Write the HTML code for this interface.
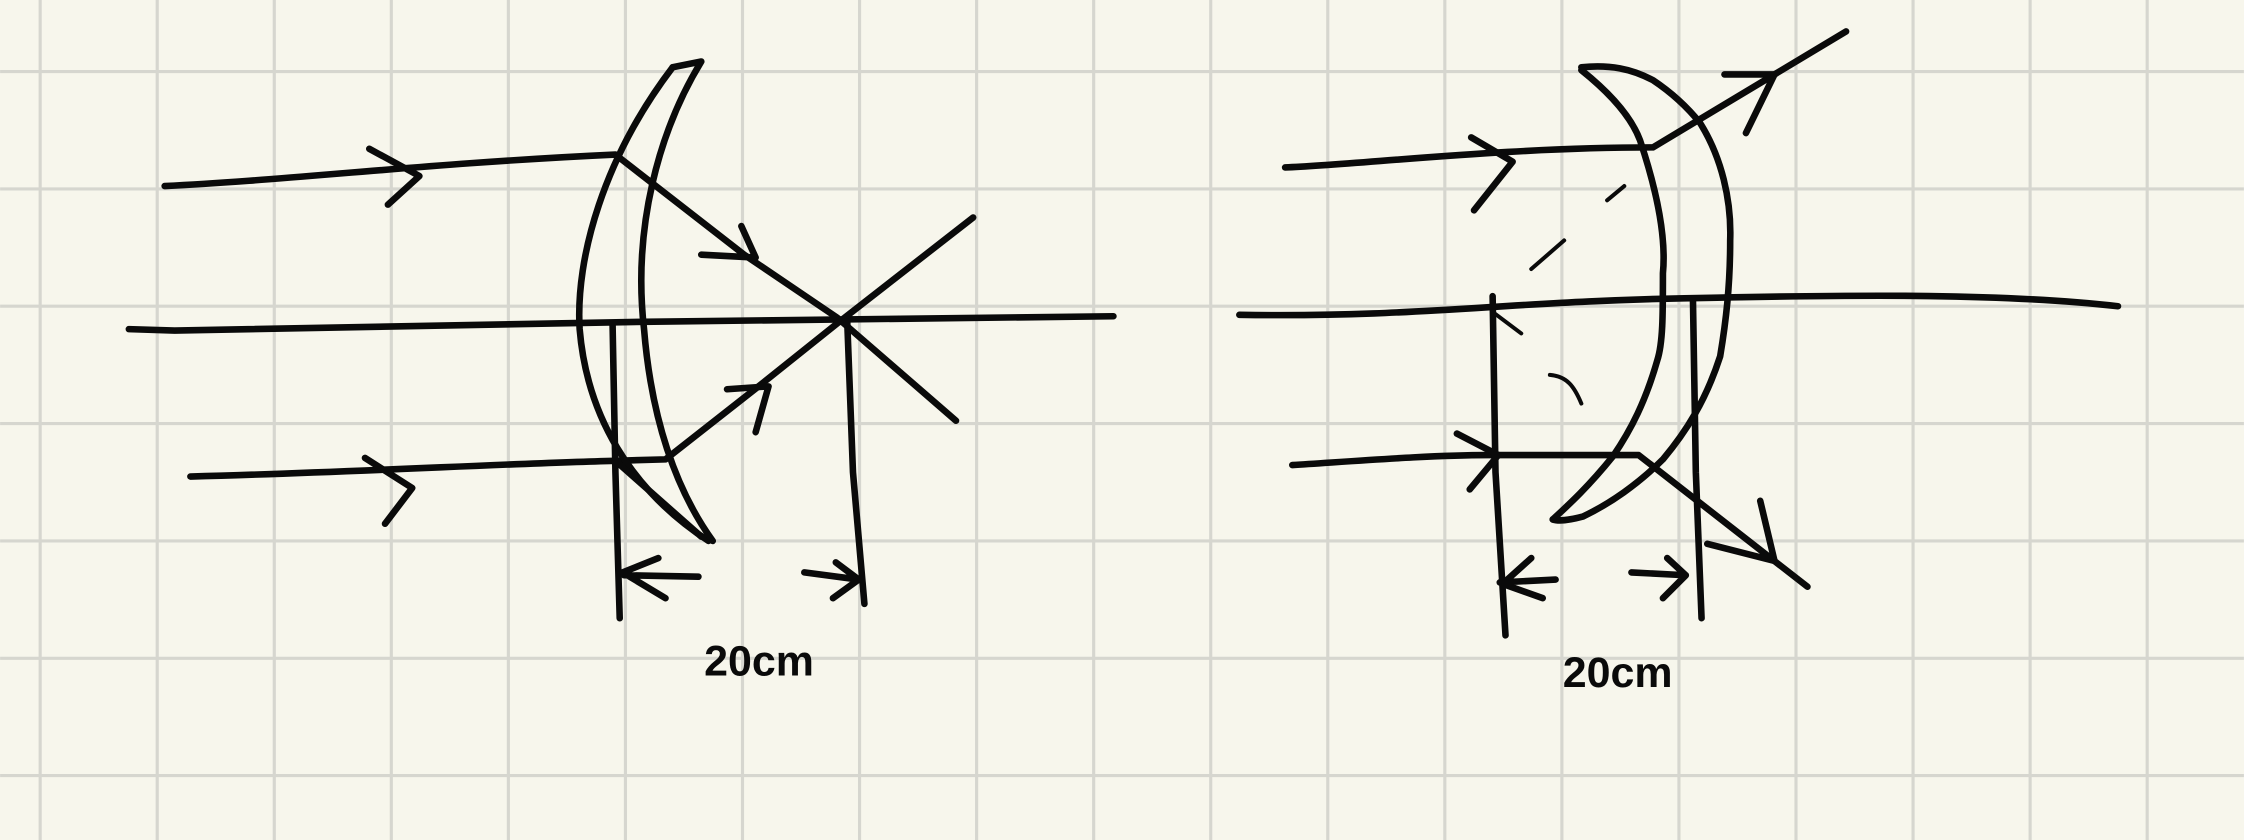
<!DOCTYPE html>
<html><head><meta charset="utf-8">
<style>
html,body{margin:0;padding:0;background:#f7f6ec;}
svg{display:block;}
.s{fill:none;stroke:#0a0a0a;stroke-width:4.6;stroke-linecap:round;stroke-linejoin:round;}
.t{fill:none;stroke:#0a0a0a;stroke-width:2.8;stroke-linecap:round;}
</style></head>
<body>
<svg width="2244" height="840" viewBox="0 0 1568 587" xmlns="http://www.w3.org/2000/svg">
<rect width="1568" height="587" fill="#f7f6ec"/>
<g id="grid" stroke="#d6d6cf" stroke-width="2.2"></g>

<g>
<path class="s" d="M115 130 C200 126 300 114 430 108 L520 178 L585 222 L668 294"/>
<path class="s" d="M258 104 L293 123 L271 143"/>
<path class="s" d="M90 230 L122 231 C300 227 600 222 778 221"/>
<path class="s" d="M133 333 C250 330 350 324 430 322 L465 321 L530 270 L585 226 L680 152"/>
<path class="s" d="M255 320 L288 341 L269 366"/>
<path class="s" d="M470 47 C422 110 402 180 405 230 C410 290 440 342 495 378"/>
<path class="s" d="M470 47 L490 43 C460 92 442 160 450 230 C455 292 472 342 498 378"/>
<path class="s" d="M430 322 L490 375"/>
<path class="s" d="M428 226 L430 330 L433 432"/>
<path class="s" d="M592 225 L596 330 L604 422"/>
<path class="s" d="M460 390 L435 400 L465 418 M436 402 L488 403"/>
<path class="s" d="M562 400 L600 405 L582 418 M584 393 L600 405"/>
<path class="s" d="M490 178 L528 180 L518 158"/>
<path class="s" d="M508 272 L537 270 L528 302"/>
<text x="492" y="472" font-family="Liberation Sans, sans-serif" font-weight="bold" font-size="30" fill="#0a0a0a">20cm</text>
</g>

<g>
<path class="s" d="M898 117 C950 115 1050 103 1155 103 L1290 22"/>
<path class="s" d="M1028 96 L1057 113 L1030 147"/>
<path class="s" d="M1205 52 L1240 52 L1220 93"/>
<path class="s" d="M866 220 C1000 222 1050 210 1200 208 C1300 206 1400 205 1480 214"/>
<path class="s" d="M903 325 C950 322 1000 318 1040 318 L1145 318 L1263 410"/>
<path class="s" d="M1018 303 L1047 318 L1027 342"/>
<path class="s" d="M1230 350 L1240 392 L1193 380"/>
<path class="s" d="M1105 49 C1125 65 1140 82 1146 98 C1160 140 1164 170 1162 191 C1162 220 1162 240 1158 252 C1150 280 1140 300 1127 319 C1110 340 1097 352 1085 363"/>
<path class="s" d="M1105 47 C1125 45 1140 48 1155 56 C1170 66 1180 76 1188 86 C1203 110 1210 140 1209 168 C1209 200 1206 225 1202 249 C1192 280 1178 302 1162 321 C1145 338 1125 352 1106 361 C1095 364 1088 364 1085 363"/>
<path class="t" d="M1070 188 L1093 168 M1123 140 L1135 130 M1043 218 L1063 233 M1083 262 C1095 263 1100 270 1105 282"/>
<path class="s" d="M1043 207 L1045 330 L1052 444"/>
<path class="s" d="M1183 210 L1185 330 L1189 432"/>
<path class="s" d="M1070 390 L1050 408 L1078 418 M1048 407 L1087 405"/>
<path class="s" d="M1140 400 L1178 402 L1162 418 M1165 390 L1178 402"/>
<text x="1092" y="480" font-family="Liberation Sans, sans-serif" font-weight="bold" font-size="30" fill="#0a0a0a">20cm</text>
</g>
</svg>
<script>
var g=document.getElementById('grid');
for(var x=28;x<1568;x+=81.8){var l=document.createElementNS('http://www.w3.org/2000/svg','line');
l.setAttribute('x1',x);l.setAttribute('x2',x);l.setAttribute('y1',0);l.setAttribute('y2',587);


g.appendChild(l);}
for(var y=50;y<587;y+=82){var l2=document.createElementNS('http://www.w3.org/2000/svg','line');
l2.setAttribute('x1',0);l2.setAttribute('x2',1568);l2.setAttribute('y1',y);l2.setAttribute('y2',y);


g.appendChild(l2);}
</script>
</body></html>
